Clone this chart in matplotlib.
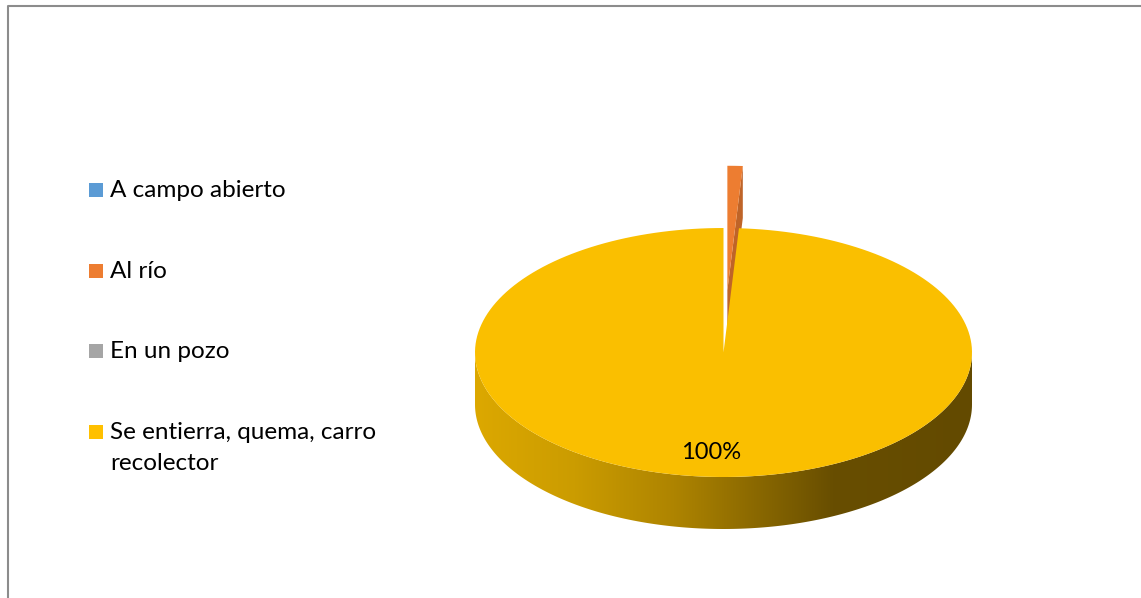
import numpy as np
import matplotlib.pyplot as plt
from matplotlib.patches import Polygon, Rectangle
from matplotlib.colors import LinearSegmentedColormap

# datos de la encuesta
categorias = ['A campo abierto', 'Al río', 'En un pozo', 'Se entierra, quema, carro\nrecolector']
valores = [0, 1, 0, 100]
etiquetas = ['', '', '', '100%']
colores = ['#5B9BD5', '#ED7D31', '#A5A5A5', '#FABF00']
colores_ley = ['#5B9BD5', '#ED7D31', '#A5A5A5', '#FFC000']
colores_corte = ['#4A82B5', '#BF6428', '#8A8A8A', '#C99A00']
separacion = [0, 0.5, 0, 0]

plt.rcParams['font.family'] = ['Lato', 'DejaVu Sans']

W, H = 1141, 598
fig = plt.figure(figsize=(W / 100, H / 100), dpi=100)
ax = fig.add_axes([0, 0, 1, 1])
ax.set_xlim(0, W)
ax.set_ylim(H, 0)
ax.axis('off')

# marco del grafico
ax.plot([7.5, 7.5, W + 5], [H + 5, 5.5, 5.5], color='#8C8C8C', lw=1.5, solid_capstyle='butt')

# geometria del pastel 3D
cx, cy = 723.5, 352.5
rx, ry = 248.5, 124.5
alto = 52


def proyectar(th, r, off, h):
    gx = r * np.sin(th) + off[0]
    gz = r * np.cos(th) + off[1]
    return cx + rx * gx, cy - ry * gz + h


def arco(t1, t2, off, h, n=200):
    th = np.linspace(t1, t2, n)
    x, y = proyectar(th, 1.0, off, h)
    return np.column_stack([x, y])


grad = LinearSegmentedColormap.from_list('lateral', [
    (0.0, '#DCA800'), (0.2, '#CB9C00'), (0.4, '#AE8400'),
    (0.58, '#876600'), (0.72, '#684E00'), (1.0, '#634A00')])

total = sum(valores)
angulos = np.cumsum([0] + valores) / total * 2 * np.pi

# orden de dibujo: primero las porciones del fondo
orden = sorted(range(len(valores)),
               key=lambda i: np.cos((angulos[i] + angulos[i + 1]) / 2), reverse=True)

for i in orden:
    if valores[i] == 0:
        continue
    t1, t2 = angulos[i], angulos[i + 1]
    tb = (t1 + t2) / 2
    off = (separacion[i] * np.sin(tb), separacion[i] * np.cos(tb))
    centro = proyectar(0, 0, off, 0)

    # pared exterior visible (mitad delantera)
    a, b = max(t1, np.pi / 2), min(t2, 3 * np.pi / 2)
    if a < b:
        sup = arco(a, b, off, 0)
        inf = arco(a, b, off, alto)[::-1]
        pared = Polygon(np.vstack([sup, inf]), closed=True, facecolor='none', edgecolor='none')
        ax.add_patch(pared)
        if i == 3:
            img = ax.imshow(np.linspace(0, 1, 256)[None, :], cmap=grad, aspect='auto',
                            extent=[cx - rx, cx + rx, cy + ry + alto + 2, cy - 2],
                            interpolation='bilinear', zorder=1)
            img.set_clip_path(pared)
        else:
            pared.set_facecolor(colores_corte[i])

    # caras de corte
    if np.sin(t2) > 1e-6:
        p = proyectar(t2, 1.0, off, 0)
        q = proyectar(t2, 1.0, off, alto)
        cara = [centro, p, q, (centro[0], centro[1] + alto)]
        ax.add_patch(Polygon(cara, closed=True, facecolor=colores_corte[i], edgecolor='none', zorder=2))
    if np.sin(t1) < -1e-6:
        p = proyectar(t1, 1.0, off, 0)
        q = proyectar(t1, 1.0, off, alto)
        cara = [centro, p, q, (centro[0], centro[1] + alto)]
        ax.add_patch(Polygon(cara, closed=True, facecolor=colores_corte[i], edgecolor='none', zorder=2))

    # cara superior
    tapa = np.vstack([[centro], arco(t1, t2, off, 0)])
    ax.add_patch(Polygon(tapa, closed=True, facecolor=colores[i], edgecolor='none', zorder=3))

# etiqueta de datos
ax.text(711, 459, etiquetas[3], ha='center', va='baseline', fontsize=17, color='black', zorder=5)

# leyenda
ley_base = [197, 278, 358, 439]
for cat, col, yb in zip(categorias, colores_ley, ley_base):
    ax.add_patch(Rectangle((89, yb - 14), 14, 14, facecolor=col, edgecolor='none'))
    for k, linea in enumerate(cat.split('\n')):
        ax.text(110, yb + 31.5 * k, linea, ha='left', va='baseline', fontsize=17.5, color='black')

fig.savefig('out.png', dpi=100)
